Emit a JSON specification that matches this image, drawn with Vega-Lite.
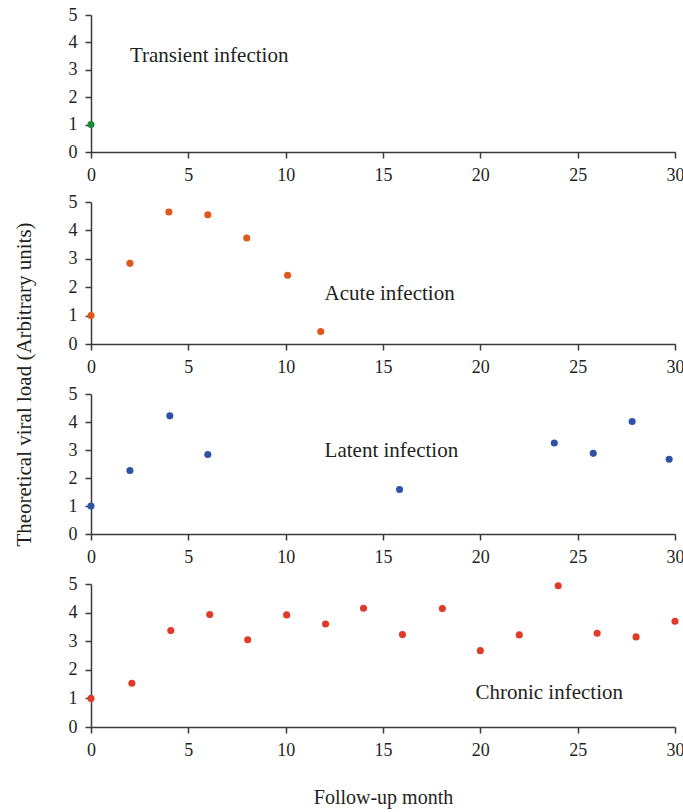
{
  "$schema": "https://vega.github.io/schema/vega-lite/v6.json",
  "background": "white",
  "padding": {"left": 13, "top": 6, "right": 4, "bottom": 2},
  "title": {"text": "Theoretical viral load (Arbitrary units)", "orient": "left", "anchor": "middle", "frame": "bounds", "font": "Liberation Serif", "fontSize": 21, "fontWeight": "normal", "color": "#231f20", "offset": 33, "dx": 22},
  "datasets": {
    "points": [
      {"pattern": "Transient", "month": 0, "load": 1.0},
      {"pattern": "Acute", "month": 0, "load": 1.0},
      {"pattern": "Acute", "month": 2, "load": 2.84},
      {"pattern": "Acute", "month": 4, "load": 4.65},
      {"pattern": "Acute", "month": 6, "load": 4.55},
      {"pattern": "Acute", "month": 8, "load": 3.73},
      {"pattern": "Acute", "month": 10.1, "load": 2.42},
      {"pattern": "Acute", "month": 11.8, "load": 0.44},
      {"pattern": "Latent", "month": 0, "load": 1.0},
      {"pattern": "Latent", "month": 2, "load": 2.27},
      {"pattern": "Latent", "month": 4.05, "load": 4.22},
      {"pattern": "Latent", "month": 6, "load": 2.84},
      {"pattern": "Latent", "month": 15.85, "load": 1.59},
      {"pattern": "Latent", "month": 23.8, "load": 3.25},
      {"pattern": "Latent", "month": 25.8, "load": 2.88},
      {"pattern": "Latent", "month": 27.8, "load": 4.02},
      {"pattern": "Latent", "month": 29.7, "load": 2.67},
      {"pattern": "Chronic", "month": 0, "load": 1.0},
      {"pattern": "Chronic", "month": 2.1, "load": 1.53},
      {"pattern": "Chronic", "month": 4.1, "load": 3.37},
      {"pattern": "Chronic", "month": 6.1, "load": 3.93},
      {"pattern": "Chronic", "month": 8.05, "load": 3.05},
      {"pattern": "Chronic", "month": 10.05, "load": 3.92},
      {"pattern": "Chronic", "month": 12.05, "load": 3.6},
      {"pattern": "Chronic", "month": 14, "load": 4.15},
      {"pattern": "Chronic", "month": 16, "load": 3.23},
      {"pattern": "Chronic", "month": 18.05, "load": 4.14},
      {"pattern": "Chronic", "month": 20, "load": 2.67},
      {"pattern": "Chronic", "month": 22, "load": 3.22},
      {"pattern": "Chronic", "month": 24, "load": 4.94},
      {"pattern": "Chronic", "month": 26, "load": 3.28},
      {"pattern": "Chronic", "month": 28, "load": 3.15},
      {"pattern": "Chronic", "month": 30, "load": 3.7}
    ],
    "labels": [
      {"pattern": "Transient", "month": 2, "load": 3.5, "label": "Transient infection"},
      {"pattern": "Acute", "month": 12, "load": 1.75, "label": "Acute infection"},
      {"pattern": "Latent", "month": 12, "load": 2.95, "label": "Latent infection"},
      {"pattern": "Chronic", "month": 19.75, "load": 1.2, "label": "Chronic infection"}
    ]
  },
  "spacing": 50,
  "bounds": "flush",
  "vconcat": [
    {
      "width": 584, "height": 137,
      "encoding": {
        "x": {"field": "month", "type": "quantitative", "scale": {"domain": [0, 30], "nice": false}, "axis": {"values": [0, 5, 10, 15, 20, 25, 30], "title": null}},
        "y": {"field": "load", "type": "quantitative", "scale": {"domain": [0, 5], "nice": false}, "axis": {"values": [0, 1, 2, 3, 4, 5], "title": null}}
      },
      "layer": [
        {"data": {"name": "points"}, "transform": [{"filter": "datum.pattern === 'Transient'"}],
         "mark": {"type": "circle", "size": 50, "opacity": 1, "color": "#1b8a3c"}},
        {"data": {"name": "labels"}, "transform": [{"filter": "datum.pattern === 'Transient'"}],
         "mark": {"type": "text", "align": "left", "baseline": "middle"},
         "encoding": {"text": {"field": "label"}}}
      ]
    },
    {
      "width": 584, "height": 142,
      "encoding": {
        "x": {"field": "month", "type": "quantitative", "scale": {"domain": [0, 30], "nice": false}, "axis": {"values": [0, 5, 10, 15, 20, 25, 30], "title": null}},
        "y": {"field": "load", "type": "quantitative", "scale": {"domain": [0, 5], "nice": false}, "axis": {"values": [0, 1, 2, 3, 4, 5], "title": null}}
      },
      "layer": [
        {"data": {"name": "points"}, "transform": [{"filter": "datum.pattern === 'Acute'"}],
         "mark": {"type": "circle", "size": 50, "opacity": 1, "color": "#e0561b"}},
        {"data": {"name": "labels"}, "transform": [{"filter": "datum.pattern === 'Acute'"}],
         "mark": {"type": "text", "align": "left", "baseline": "middle"},
         "encoding": {"text": {"field": "label"}}}
      ]
    },
    {
      "width": 584, "height": 140,
      "encoding": {
        "x": {"field": "month", "type": "quantitative", "scale": {"domain": [0, 30], "nice": false}, "axis": {"values": [0, 5, 10, 15, 20, 25, 30], "title": null}},
        "y": {"field": "load", "type": "quantitative", "scale": {"domain": [0, 5], "nice": false}, "axis": {"values": [0, 1, 2, 3, 4, 5], "title": null}}
      },
      "layer": [
        {"data": {"name": "points"}, "transform": [{"filter": "datum.pattern === 'Latent'"}],
         "mark": {"type": "circle", "size": 50, "opacity": 1, "color": "#2d52a6"}},
        {"data": {"name": "labels"}, "transform": [{"filter": "datum.pattern === 'Latent'"}],
         "mark": {"type": "text", "align": "left", "baseline": "middle"},
         "encoding": {"text": {"field": "label"}}}
      ]
    },
    {
      "width": 584, "height": 143,
      "encoding": {
        "x": {"field": "month", "type": "quantitative", "scale": {"domain": [0, 30], "nice": false}, "axis": {"values": [0, 5, 10, 15, 20, 25, 30], "title": "Follow-up month", "titlePadding": 28}},
        "y": {"field": "load", "type": "quantitative", "scale": {"domain": [0, 5], "nice": false}, "axis": {"values": [0, 1, 2, 3, 4, 5], "title": null}}
      },
      "layer": [
        {"data": {"name": "points"}, "transform": [{"filter": "datum.pattern === 'Chronic'"}],
         "mark": {"type": "circle", "size": 50, "opacity": 1, "color": "#e23a28"}},
        {"data": {"name": "labels"}, "transform": [{"filter": "datum.pattern === 'Chronic'"}],
         "mark": {"type": "text", "align": "left", "baseline": "middle"},
         "encoding": {"text": {"field": "label"}}}
      ]
    }
  ],
  "config": {
    "view": {"stroke": null},
    "axis": {"labelFont": "Liberation Serif", "labelFontSize": 18, "labelColor": "#231f20", "labelPadding": 8, "labelFlush": false, "labelOverlap": false, "domainColor": "#3a3a3a", "tickColor": "#3a3a3a", "domainWidth": 1.5, "tickWidth": 1.5, "tickSize": 6, "grid": false, "titleFont": "Liberation Serif", "titleFontSize": 20, "titleFontWeight": "normal", "titleColor": "#231f20"},
    "text": {"font": "Liberation Serif", "fontSize": 21, "color": "#231f20"}
  }
}
